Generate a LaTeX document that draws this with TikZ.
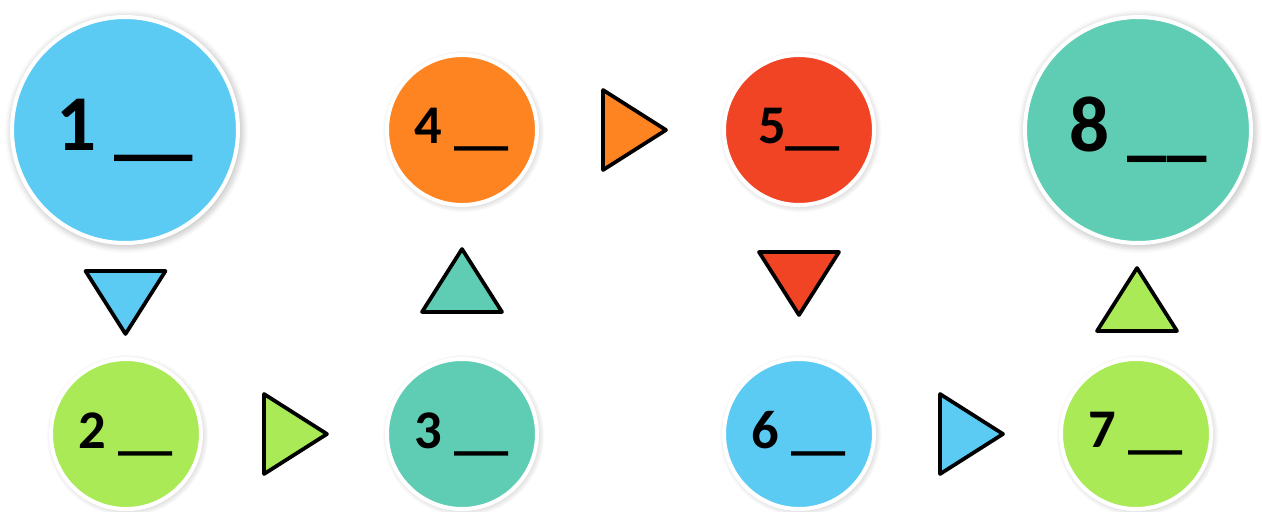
\documentclass[tikz,border=0pt]{standalone}
\usepackage{fontspec}
\setmainfont{Carlito}
\usetikzlibrary{calc,shadows}
\definecolor{cblue}{HTML}{5BCBF4}
\definecolor{cgreen}{HTML}{A9EA56}
\definecolor{cteal}{HTML}{5ECDB3}
\definecolor{corange}{HTML}{FE8421}
\definecolor{cred}{HTML}{F04424}

\begin{document}
\begin{tikzpicture}[
  ball/.style={circle, draw=white, line width=0.08cm, inner sep=0pt,
    circular drop shadow={shadow xshift=0.6pt, shadow yshift=-0.6pt,
      shadow scale=1.08, opacity=0.45},
    minimum size=3.0cm, font=\bfseries\fontsize{31}{36}\selectfont},
  bigball/.style={ball, minimum size=4.52cm,
    circular drop shadow={shadow xshift=0.6pt, shadow yshift=-0.6pt,
      shadow scale=1.055, opacity=0.45},
    font=\bfseries\fontsize{45}{50}\selectfont},
  tri/.style={draw=black, line width=0.075cm, line join=round}
]
  \useasboundingbox (0,0) rectangle (25.24,-10.22);

  % circles, top row
  \node[bigball, fill=cblue]  (c1) at (2.50,-2.60)  {1 \_\_};
  \node[ball,    fill=corange] (c4) at (9.24,-2.60)  {4 \_\_};
  \node[ball,    fill=cred]   (c5) at (15.98,-2.60) {5\_\_};
  \node[bigball, fill=cteal]  (c8) at (22.76,-2.60) {8 \_\_};
  % circles, bottom row
  \node[ball, fill=cgreen] (c2) at (2.52,-8.68)  {2 \_\_};
  \node[ball, fill=cteal]  (c3) at (9.24,-8.68)  {3 \_\_};
  \node[ball, fill=cblue]  (c6) at (15.98,-8.68) {6 \_\_};
  \node[ball, fill=cgreen] (c7) at (22.72,-8.68) {7 \_\_};

  % triangles between the circles
  \draw[tri, fill=cblue]   ($(c1.south)!.5!(c2.north)$) ++(-0.8,0.6) -- ++(1.6,0) -- ++(-0.8,-1.26) -- cycle;
  \draw[tri, fill=cgreen]  ($(c2.east)!.5!(c3.west)$) ++(-0.6,0.8) -- ++(0,-1.6) -- ++(1.26,0.8) -- cycle;
  \draw[tri, fill=cteal]   ($(c3.north)!.5!(c4.south)$) ++(-0.8,-0.6) -- ++(1.6,0) -- ++(-0.8,1.26) -- cycle;
  \draw[tri, fill=corange] ($(c4.east)!.5!(c5.west)$) ++(-0.55,0.8) -- ++(0,-1.6) -- ++(1.26,0.8) -- cycle;
  \draw[tri, fill=cred]    ($(c5.south)!.5!(c6.north)$) ++(-0.8,0.6) -- ++(1.6,0) -- ++(-0.8,-1.26) -- cycle;
  \draw[tri, fill=cblue]   ($(c6.east)!.5!(c7.west)$) ++(-0.55,0.8) -- ++(0,-1.6) -- ++(1.26,0.8) -- cycle;
  \draw[tri, fill=cgreen]  ($(c7.north)!.5!(c8.south)$) ++(-0.8,-0.6) -- ++(1.6,0) -- ++(-0.8,1.26) -- cycle;
\end{tikzpicture}
\end{document}
